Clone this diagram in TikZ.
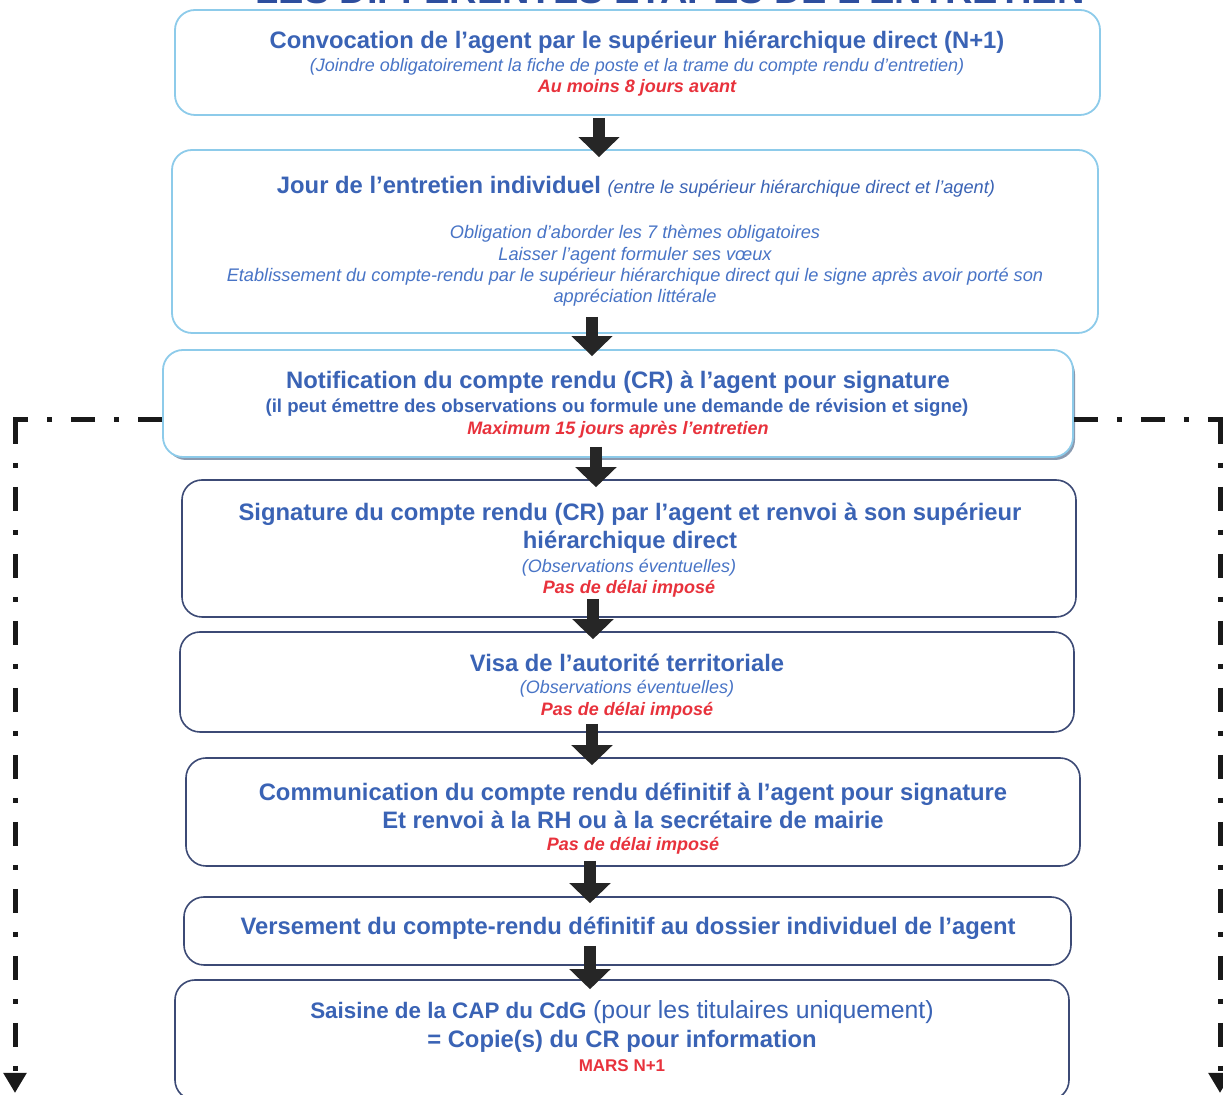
\documentclass[tikz,border=0pt]{standalone}
\usepackage{fontspec}
\setmainfont{Liberation Sans}
\usetikzlibrary{arrows.meta,fit}

\definecolor{hblue}{HTML}{3A63B5}
\definecolor{iblue}{HTML}{4874C6}
\definecolor{rred}{HTML}{E8323C}
\definecolor{lborder}{HTML}{8DCBEA}
\definecolor{dborder}{HTML}{3C4A75}
\definecolor{tblue}{HTML}{2E4E9E}
\definecolor{shadowc}{HTML}{8A9AB0}

\begin{document}
\begin{tikzpicture}[x=0.5pt,y=-0.5pt,
 lbox/.style={draw=lborder, line width=0.9pt, rounded corners=10pt, inner sep=0pt, fill=white},
 dbox/.style={draw=dborder, line width=0.8pt, rounded corners=10pt, inner sep=0pt, fill=white},
 hd/.style={font=\fontsize{11.9}{14}\selectfont\bfseries, text=hblue, inner sep=0pt, align=center},
 itl/.style={font=\fontsize{9}{10.7}\selectfont\itshape, text=iblue, inner sep=0pt, align=center},
 rd/.style={font=\fontsize{9}{11}\selectfont\bfseries\itshape, text=rred, inner sep=0pt},
 bigarrow/.style={draw=black!85, line width=6pt, -{Triangle[width=20pt,length=10pt]}},
 dd/.style={draw=black!90, line width=2.5pt, dash pattern=on 12pt off 9.5pt on 2.5pt off 9.5pt},
 ddtip/.style={-{Triangle[width=11pt,length=10pt]}},
]
\clip (0,0) rectangle (1223,1095);

% title (cut at top)
\node[anchor=base east, inner sep=0pt, font=\fontsize{19}{22}\selectfont\bfseries, text=tblue] (title) at (1085,4) {LES DIFFÉRENTES ÉTAPES DE L’ENTRETIEN};

% boxes
\node[lbox, fit={(175,10) (1100,115)}] (b1) {};
\node[lbox, fit={(172,150) (1098,333)}] (b2) {};
\fill[shadowc, rounded corners=10pt] (166,354) rectangle (1075,460);
\node[lbox, fit={(163,350) (1073,457)}] (b3) {};
\node[dbox, fit={(182,480) (1076,617)}] (b4) {};
\node[dbox, fit={(180,632) (1074,732)}] (b5) {};
\node[dbox, fit={(186,758) (1080,866)}] (b6) {};
\node[dbox, fit={(184,897) (1071,965)}] (b7) {};
\node[dbox, fit={(175,980) (1069,1100)}] (b8) {};

% box 1
\node[hd] (t1a) at (637,42) {Convocation de l’agent par le supérieur hiérarchique direct (N+1)};
\node[itl] (t1b) at (637,67) {(Joindre obligatoirement la fiche de poste et la trame du compte rendu d’entretien)};
\node[rd] (t1c) at (637,88) {Au moins 8 jours avant};

% box 2
\node[hd] (t2a) at (636,187) {Jour de l’entretien individuel {\fontsize{9.1}{11}\selectfont\mdseries\itshape (entre le supérieur hiérarchique direct et l’agent)}};
\node[itl, font=\fontsize{9.1}{10.7}\selectfont\itshape] (t2b) at (635,266) {Obligation d’aborder les 7 thèmes obligatoires\\Laisser l’agent formuler ses vœux\\Etablissement du compte-rendu par le supérieur hiérarchique direct qui le signe après avoir porté son\\appréciation littérale};

% box 3
\node[hd] (t3a) at (618,382) {Notification du compte rendu (CR) à l’agent pour signature};
\node[hd, font=\fontsize{9.3}{11}\selectfont\bfseries] (t3b) at (617,408) {(il peut émettre des observations ou formule une demande de révision et signe)};
\node[rd] (t3c) at (618,430) {Maximum 15 jours après l’entretien};

% box 4
\node[hd] (t4a) at (630,528) {Signature du compte rendu (CR) par l’agent et renvoi à son supérieur\\hiérarchique direct};
\node[itl] (t4b) at (629,568) {(Observations éventuelles)};
\node[rd] (t4c) at (629,589) {Pas de délai imposé};

% box 5
\node[hd] (t5a) at (627,663) {Visa de l’autorité territoriale};
\node[itl] (t5b) at (627,689) {(Observations éventuelles)};
\node[rd] (t5c) at (627,711) {Pas de délai imposé};

% box 6
\node[hd] (t6a) at (633,806) {Communication du compte rendu définitif à l’agent pour signature\\Et renvoi à la RH ou à la secrétaire de mairie};
\node[rd] (t6c) at (633,846) {Pas de délai imposé};

% box 7
\node[hd] (t7a) at (628,928) {Versement du compte-rendu définitif au dossier individuel de l’agent};

% box 8
\node[hd] (t8a) at (622,1012) {{\fontsize{11.2}{14}\selectfont Saisine de la CAP du CdG} {\fontsize{12.4}{14}\selectfont\mdseries (pour les titulaires uniquement)}};
\node[hd] (t8b) at (622,1041) {= Copie(s) du CR pour information};
\node[hd, font=\fontsize{8.5}{10}\selectfont\bfseries, text=rred] (t8c) at (622,1066) {MARS N+1};

% arrow x positions
\coordinate (x1) at (599,0);
\coordinate (x2) at (592,0);
\coordinate (x3) at (596,0);
\coordinate (x4) at (593,0);
\coordinate (x5) at (592,0);
\coordinate (x6) at (590,0);
\coordinate (x7) at (590,0);

\draw[bigarrow, shorten <=1pt, shorten >=-4pt] (x1 |- b1.south) -- (x1 |- b2.north);
\draw[bigarrow, shorten <=-8.5pt, shorten >=-3.5pt] (x2 |- b2.south) -- (x2 |- b3.north);
\draw[bigarrow, shorten <=-5.5pt, shorten >=-4pt] (x3 |- b3.south) -- (x3 |- b4.north);
\draw[bigarrow, shorten <=-9.5pt, shorten >=-4pt] (x4 |- b4.south) -- (x4 |- b5.north);
\draw[bigarrow, shorten <=-4.5pt, shorten >=-4pt] (x5 |- b5.south) -- (x5 |- b6.north);
\draw[bigarrow, shorten <=-3pt, shorten >=-3.5pt] (x6 |- b6.south) -- (x6 |- b7.north);
\draw[bigarrow, shorten <=-10pt, shorten >=-5pt] (x7 |- b7.south) -- (x7 |- b8.north);

% dash-dot side connectors
\coordinate (LC) at (15,420);
\coordinate (LH) at (12.5,420);
\coordinate (LB) at (15,1093);
\coordinate (RC) at (1220,420);
\coordinate (RH) at (1222.5,420);
\coordinate (RB) at (1220,1093);
\draw[dd] (b3.west |- LC) -- (LH);
\draw[dd, ddtip] (LC) -- (LB);
\draw[dd] (b3.east |- RC) -- (RH);
\draw[dd, ddtip] (RC) -- (RB);
\end{tikzpicture}
\end{document}
